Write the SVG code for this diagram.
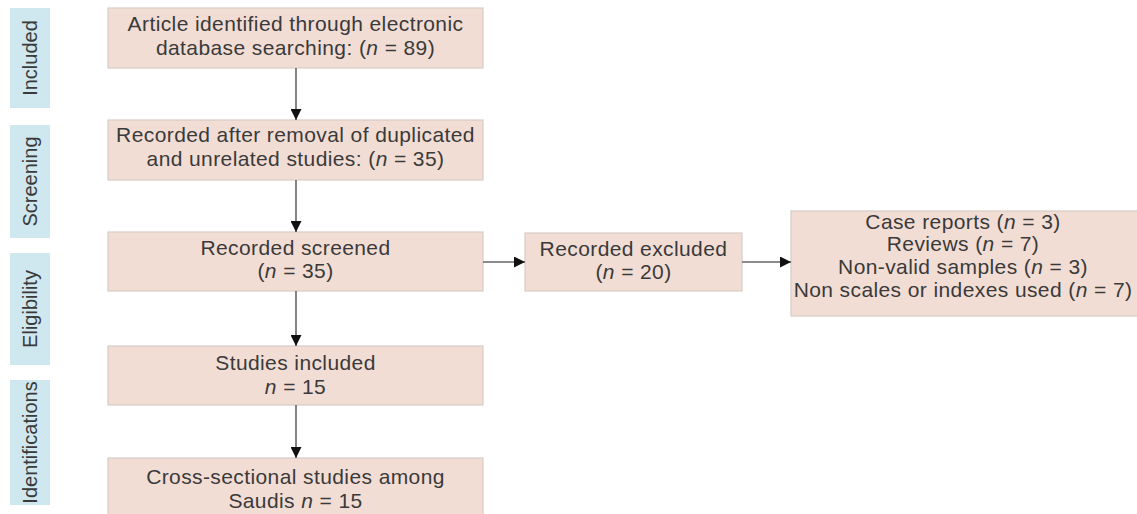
<svg xmlns="http://www.w3.org/2000/svg" width="1137" height="514" viewBox="0 0 1137 514">
<style>
.stage{fill:#cfe7ee;}
.stxt{font-family:"Liberation Sans",Arial,sans-serif;font-size:20px;fill:#3a3a3a;text-anchor:middle;}
.box{fill:#f2ddd5;stroke:#d8cbc6;stroke-width:1.2;}
.t{font-family:"Liberation Sans",Arial,sans-serif;font-size:21px;letter-spacing:0.4px;fill:#3a3a3a;text-anchor:middle;}
.conn{stroke:#666;stroke-width:1.6;fill:none;marker-end:url(#ah);}
</style>
<defs>
<marker id="ah" viewBox="0 0 10 10" refX="10" refY="5" markerWidth="11" markerHeight="11" markerUnits="userSpaceOnUse" orient="auto">
<path d="M0,0 L10,5 L0,10 z" fill="#111"/>
</marker>
</defs>
<rect width="1137" height="514" fill="#ffffff"/>
<g id="stage-included"><rect class="stage" x="10" y="8" width="40" height="100"/><text class="stxt" transform="translate(37,58) rotate(-90)">Included</text></g>
<g id="stage-screening"><rect class="stage" x="10" y="125" width="40" height="113"/><text class="stxt" transform="translate(37,181.5) rotate(-90)">Screening</text></g>
<g id="stage-eligibility"><rect class="stage" x="10" y="253" width="40" height="112"/><text class="stxt" transform="translate(37,309) rotate(-90)">Eligibility</text></g>
<g id="stage-identifications"><rect class="stage" x="10" y="380" width="40" height="125"/><text class="stxt" transform="translate(37,442.5) rotate(-90)">Identifications</text></g>
<g id="box1"><rect class="box" x="108" y="8" width="375" height="60"/><text class="t" x="295.5" y="31">Article identified through electronic</text><text class="t" x="295.5" y="55">database searching: (<tspan font-style="italic">n</tspan> = 89)</text></g>
<g id="box2"><rect class="box" x="108" y="120" width="375" height="60"/><text class="t" x="295.5" y="142">Recorded after removal of duplicated</text><text class="t" x="295.5" y="166">and unrelated studies: (<tspan font-style="italic">n</tspan> = 35)</text></g>
<g id="box3"><rect class="box" x="108" y="232" width="375" height="59"/><text class="t" x="295.5" y="255">Recorded screened</text><text class="t" x="295.5" y="278">(<tspan font-style="italic">n</tspan> = 35)</text></g>
<g id="box4"><rect class="box" x="108" y="346" width="375" height="59"/><text class="t" x="295.5" y="370">Studies included</text><text class="t" x="295.5" y="394"><tspan font-style="italic">n</tspan> = 15</text></g>
<g id="box5"><rect class="box" x="108" y="458" width="375" height="60"/><text class="t" x="295.5" y="484">Cross-sectional studies among</text><text class="t" x="295.5" y="508">Saudis <tspan font-style="italic">n</tspan> = 15</text></g>
<g id="excluded"><rect class="box" x="525" y="233" width="217" height="58"/><text class="t" x="633.5" y="256">Recorded excluded</text><text class="t" x="633.5" y="279">(<tspan font-style="italic">n</tspan> = 20)</text></g>
<g id="reasons"><rect class="box" x="791" y="211" width="350" height="105"/><text class="t" x="963" y="229">Case reports (<tspan font-style="italic">n</tspan> = 3)</text><text class="t" x="963" y="251">Reviews (<tspan font-style="italic">n</tspan> = 7)</text><text class="t" x="963" y="274">Non-valid samples (<tspan font-style="italic">n</tspan> = 3)</text><text class="t" x="963" y="297">Non scales or indexes used (<tspan font-style="italic">n</tspan> = 7)</text></g>
<g id="connectors">
<line class="conn" x1="296" y1="68" x2="296" y2="120"/>
<line class="conn" x1="296" y1="180" x2="296" y2="232"/>
<line class="conn" x1="296" y1="291" x2="296" y2="346"/>
<line class="conn" x1="296" y1="405" x2="296" y2="458"/>
<line class="conn" x1="483" y1="262" x2="525" y2="262"/>
<line class="conn" x1="742" y1="262" x2="791" y2="262"/>
</g>
</svg>
